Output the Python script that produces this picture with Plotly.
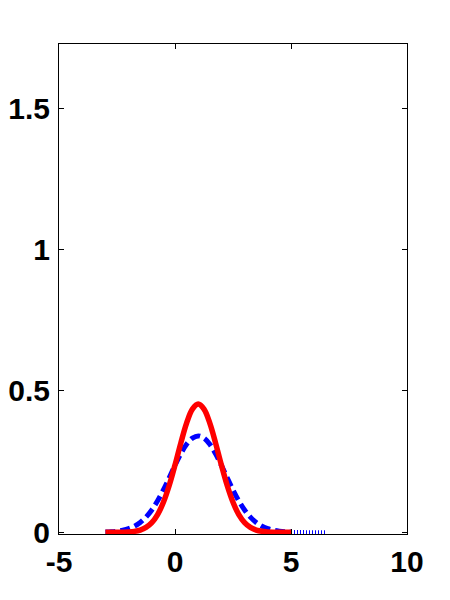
import plotly.graph_objects as go

# sample positions (x) and read-off densities
x_red = [-3.0, -2.75, -2.5, -2.25, -2.0, -1.75, -1.5, -1.25, -1.0, -0.75, -0.5, -0.25,
         0.0, 0.25, 0.5, 0.75, 1.0, 1.25, 1.5, 1.75, 2.0, 2.25, 2.5, 2.75, 3.0,
         3.25, 3.5, 3.75, 4.0, 4.25, 4.5, 4.75, 5.0]
y_red = [0.0, 0.0001, 0.0002, 0.0005, 0.0014, 0.0034, 0.0080, 0.0173, 0.0343, 0.0628,
         0.1061, 0.1654, 0.2378, 0.3154, 0.386, 0.4355, 0.4535, 0.4355, 0.386, 0.3154,
         0.2378, 0.1654, 0.1061, 0.0628, 0.0343, 0.0173, 0.0080, 0.0034, 0.0014,
         0.0005, 0.0002, 0.0001, 0.0]

x_blue = [-3.0, -2.75, -2.5, -2.25, -2.0, -1.75, -1.5, -1.25, -1.0, -0.75, -0.5, -0.25,
          0.0, 0.25, 0.5, 0.75, 1.0, 1.25, 1.5, 1.75, 2.0, 2.25, 2.5, 2.75, 3.0,
          3.25, 3.5, 3.75, 4.0, 4.25, 4.5, 4.75, 5.0]
y_blue = [0.0010, 0.0020, 0.0039, 0.0072, 0.0127, 0.0216, 0.0348, 0.0537, 0.0791,
          0.1114, 0.1499, 0.1927, 0.2367, 0.2776, 0.3112, 0.3333, 0.341, 0.3333,
          0.3112, 0.2776, 0.2367, 0.1927, 0.1499, 0.1114, 0.0791, 0.0537, 0.0348,
          0.0216, 0.0127, 0.0072, 0.0039, 0.0020, 0.0010]
x_blue_tail = [5.0, 5.25, 5.5, 5.75, 6.0, 6.25, 6.5]
y_blue_tail = [0.0010, 0.0005, 0.0002, 0.0001, 0.0, 0.0, 0.0]

x_ticks = [-5, 0, 5, 10]
y_ticks = [0, 0.5, 1, 1.5]

fig = go.Figure()
fig.add_trace(go.Scatter(x=x_blue, y=y_blue, mode="lines",
                         line=dict(color="#0000ff", width=5, dash="10px,5px", shape="spline")))
fig.add_trace(go.Scatter(x=x_blue_tail, y=y_blue_tail, mode="lines",
                         line=dict(color="#0000ff", width=4, dash="1px,2px")))
fig.add_trace(go.Scatter(x=x_red, y=y_red, mode="lines",
                         line=dict(color="#ff0000", width=5.5, shape="spline")))

axis_common = dict(showgrid=False, zeroline=False, showline=True, linecolor="black",
                   linewidth=1, mirror="ticks", ticks="inside", ticklen=5,
                   tickcolor="black", tickwidth=1, automargin=False,
                   tickfont=dict(family="Liberation Sans", size=30,
                                 color="black", weight="bold"))

fig.update_layout(
    width=450, height=600,
    margin=dict(l=59, r=43, t=44, b=66),
    paper_bgcolor="white", plot_bgcolor="white",
    showlegend=False,
    xaxis=dict(range=[-5, 10], tickvals=x_ticks, ticktext=[str(v) for v in x_ticks],
               ticklabelstandoff=1, **axis_common),
    yaxis=dict(range=[-0.006, 1.727], tickvals=y_ticks,
               ticktext=["0", "0.5", "1", "1.5"], ticklabelstandoff=2, **axis_common),
)

fig.write_html("out.html", config={"displayModeBar": False},
               post_script="document.body.style.margin='0';document.body.style.overflow='hidden';")
